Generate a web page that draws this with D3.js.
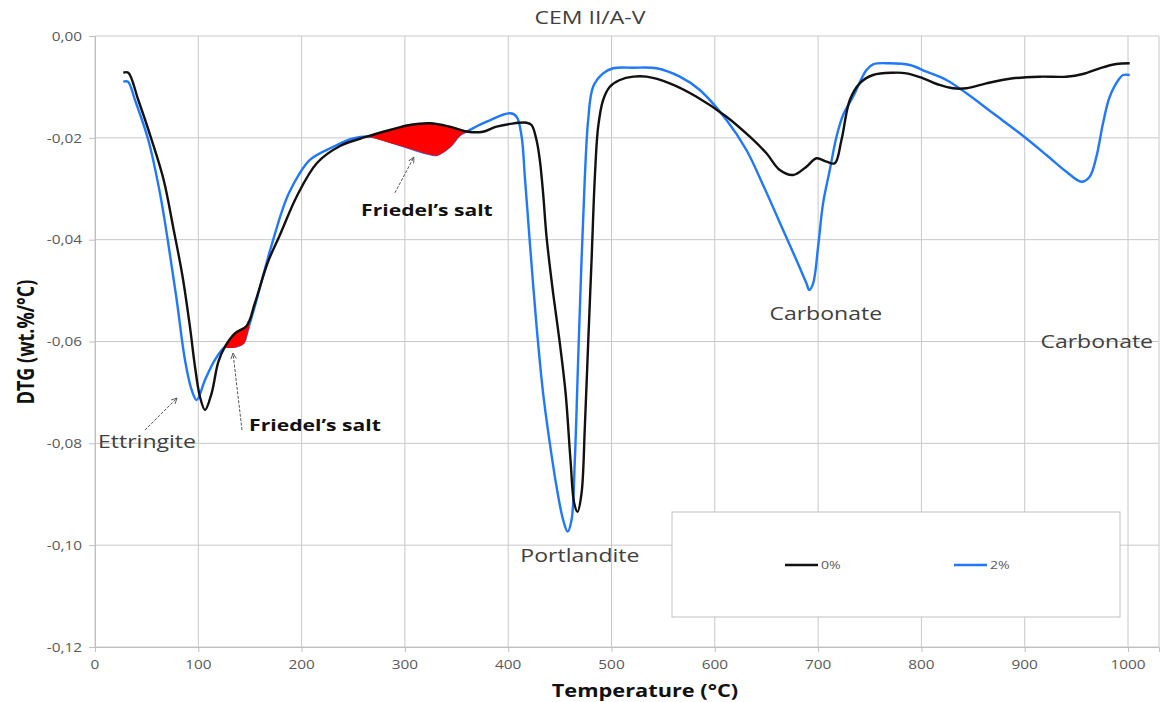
<!DOCTYPE html>
<html>
<head>
<meta charset="utf-8">
<script src="https://cdn.jsdelivr.net/npm/d3@7"></script>
<style>
  body { margin: 0; background: #fff; }
  svg { display: block; }
</style>
</head>
<body>
<svg id="chart" width="1163" height="702"></svg>
<script>
// DTG curves, CEM II/A-V, temperature in °C and DTG in wt.%/°C
const temp0 = [27.4, 32.2, 41.9, 54.9, 66.5, 76.2, 84.8, 91.9, 96.8, 101.6, 106.5, 112.9, 119.3, 125.8, 135.5, 146.8,
  154.8, 167.4, 179, 195.5, 214.9, 237.2, 263, 285.5, 304.8, 324.2, 343.5, 361, 375.5, 388.7, 417.8, 422.6, 427.4,
  430.6, 433.8, 437.1, 443.5, 450, 455.6, 460.3, 463.9, 467.1, 471, 474.2, 477.4, 480.7, 483.9, 487.1, 491.9, 498.4,
  508.1, 521, 533.9, 556.4, 582.3, 611.3, 633.9, 650, 662.9, 675.8, 688.7, 698.4, 708.1, 716.1, 722.6, 730.7, 740.3,
  753.2, 772.6, 785.5, 801.6, 817.7, 830.6, 843.6, 862.9, 888.7, 914.5, 940.3, 956.4, 972.6, 988.7, 1001.6];
const dtg0 = [-0.0072, -0.0072, -0.01257, -0.02043, -0.02828, -0.0381, -0.04727, -0.05709, -0.06495, -0.07084, -0.07345,
  -0.07017, -0.06403, -0.06102, -0.05839, -0.05696, -0.05244, -0.04439, -0.03908, -0.03142, -0.02494, -0.0216,
  -0.01978, -0.01846, -0.01748, -0.01715, -0.01781, -0.0188, -0.0188, -0.01781, -0.01703, -0.01748, -0.02043, -0.02435,
  -0.03089, -0.03942, -0.05053, -0.06036, -0.07018, -0.08327, -0.09178, -0.09343, -0.08981, -0.07673, -0.06036,
  -0.04399, -0.02763, -0.01781, -0.01257, -0.00996, -0.00864, -0.00799, -0.00799, -0.00929, -0.01192, -0.01585,
  -0.01978, -0.02304, -0.02632, -0.0273, -0.02567, -0.02402, -0.02469, -0.025, -0.02043, -0.01257, -0.00929, -0.00766,
  -0.00721, -0.00733, -0.00831, -0.00962, -0.01027, -0.01027, -0.00929, -0.00831, -0.00799, -0.00799, -0.00746,
  -0.00634, -0.0055, -0.00536];

const temp2 = [27.4, 31.9, 38.7, 51.6, 62.9, 70.9, 79.1, 87.1, 93.6, 98.4, 106.5, 116.1, 125.8, 135.5, 143.5, 148.4,
  154.8, 167.4, 180.7, 188.7, 208, 230.3, 249.7, 266, 295.2, 321, 330.7, 343.5, 353.2, 361.3, 379.1, 401.6, 408.1, 413,
  416.1, 421, 427.5, 433.8, 440.3, 446.8, 453.2, 457.5, 461.3, 464.5, 467.7, 471, 474.2, 477.4, 482.2, 491.9, 501.6,
  521, 543.6, 566.1, 585.5, 611.3, 630.6, 646.7, 666.1, 679, 688.7, 691.3, 695.2, 700, 704.8, 711.3, 717.8, 724.2,
  733.8, 746.8, 753.2, 769.4, 788.7, 804.9, 824.2, 843.6, 869.4, 895.2, 921, 940.3, 954.8, 962.9, 969.4, 975.8, 982.3,
  991.9, 995.2, 1001.6];
const dtg2 = [-0.00898, -0.00898, -0.01257, -0.02043, -0.0309, -0.04071, -0.05185, -0.06363, -0.06953, -0.07149,
  -0.06756, -0.06363, -0.06114, -0.06102, -0.06035, -0.05741, -0.05303, -0.0436, -0.03457, -0.03044, -0.02435,
  -0.0218, -0.02013, -0.01974, -0.02141, -0.02304, -0.02337, -0.02174, -0.01944, -0.0186, -0.01683, -0.01518,
  -0.01585, -0.01978, -0.02763, -0.04071, -0.05709, -0.07017, -0.08, -0.08852, -0.09506, -0.09735, -0.09506, -0.08327,
  -0.06363, -0.04399, -0.02763, -0.0165, -0.00996, -0.00733, -0.00634, -0.00623, -0.00634, -0.00799, -0.01061,
  -0.0165, -0.02239, -0.02926, -0.0381, -0.04399, -0.04857, -0.04988, -0.04857, -0.04138, -0.03286, -0.02632,
  -0.01978, -0.01552, -0.01192, -0.00668, -0.00556, -0.00536, -0.0057, -0.00701, -0.00864, -0.01125, -0.01518,
  -0.01911, -0.02337, -0.02665, -0.02862, -0.02763, -0.0237, -0.01715, -0.01192, -0.00831, -0.00766, -0.00766];

const seriesNames = ["0%", "2%"];
const seriesColors = ["#111111", "#1f78ff"];

const xTickValues = [0, 100, 200, 300, 400, 500, 600, 700, 800, 900, 1000];
const yTickValues = [0, -0.02, -0.04, -0.06, -0.08, -0.10, -0.12];

// Friedel's salt signal: temperature windows where the gap between the curves is shaded
const friedelWindows = [[125.8, 148.4], [263, 361]];

// Peak labels
const labelTexts = ["Ettringite", "Friedel’s salt", "Friedel’s salt", "Portlandite", "Carbonate", "Carbonate"];
const labelTemps = [50.3, 212.9, 321.3, 469.4, 707.4, 969.7];
const labelDtgs = [-0.0795, -0.0764, -0.0342, -0.1019, -0.0544, -0.0599];
const labelBold = [false, true, true, false, false, false];

// Arrows pointing at peaks: from (temp, dtg) to (temp, dtg)
const arrowFromTemps = [48.4, 142.3, 290.3];
const arrowFromDtgs = [-0.0774, -0.0774, -0.0308];
const arrowToTemps = [79.4, 133.6, 308.7];
const arrowToDtgs = [-0.0711, -0.0623, -0.0238];

const W = 1163, H = 702;
const margin = { left: 95, top: 36, right: 4, bottom: 55 };
const SX = 1.28; // horizontal text stretch of the chart's typography
const FONT = "'Open Sans', 'Noto Sans', sans-serif";

const svg = d3.select("#chart");
const x = d3.scaleLinear().domain([0, 1030]).range([margin.left, W - margin.right]);
const y = d3.scaleLinear().domain([-0.12, 0]).range([H - margin.bottom, margin.top]);

const fmtY = v => d3.format(".2f")(v).replace(".", ",").replace("−", "-");

function stretchedText(g, px, py, txt, opts) {
  return g.append("g")
    .attr("transform", `translate(${px},${py}) scale(${SX},1)`)
    .append("text")
    .attr("font-family", FONT)
    .attr("font-size", opts.size)
    .attr("font-weight", opts.bold ? 700 : 400)
    .attr("fill", opts.color || "#404040")
    .attr("text-anchor", opts.anchor || "middle")
    .attr("dominant-baseline", "central")
    .text(txt);
}

// grid
const grid = svg.append("g");
grid.selectAll("line.v").data(xTickValues).join("line")
  .attr("x1", d => x(d)).attr("x2", d => x(d))
  .attr("y1", y(0)).attr("y2", y(-0.12))
  .attr("stroke", "#c8c8c8").attr("stroke-width", 1);
grid.selectAll("line.h").data(yTickValues).join("line")
  .attr("x1", x(0)).attr("x2", x(1030))
  .attr("y1", d => y(d)).attr("y2", d => y(d))
  .attr("stroke", "#c8c8c8").attr("stroke-width", 1);
grid.append("line").attr("x1", x(1030)).attr("x2", x(1030)).attr("y1", y(0)).attr("y2", y(-0.12))
  .attr("stroke", "#c8c8c8");

// axes
const yAxis = svg.append("g").attr("transform", `translate(${x(0)},0)`)
  .call(d3.axisLeft(y).tickValues(yTickValues).tickSize(6).tickFormat(() => ""));
const xAxis = svg.append("g").attr("transform", `translate(0,${y(-0.12)})`)
  .call(d3.axisBottom(x).tickValues(xTickValues).tickSize(5).tickFormat(() => ""));
[yAxis, xAxis].forEach(a => {
  a.select(".domain").attr("stroke", "#bfbfbf");
  a.selectAll(".tick line").attr("stroke", "#bfbfbf");
});
yTickValues.forEach(v => stretchedText(svg, x(0) - 13, y(v), fmtY(v), { size: 12, anchor: "end", color: "#595959" }));
xTickValues.forEach(v => stretchedText(svg, x(v), y(-0.12) + 17, String(v), { size: 12, color: "#595959" }));

// titles
stretchedText(svg, 590, 17, "CEM II/A-V", { size: 18, color: "#404040" });
stretchedText(svg, (x(0) + x(1030)) / 2 + 18, 690, "Temperature (°C)", { size: 17, bold: true, color: "#111" });
svg.append("g").attr("transform", `translate(25,342) scale(${SX},1) rotate(-90)`)
  .append("text").attr("font-family", FONT).attr("font-size", 18).attr("font-weight", 700)
  .attr("fill", "#111").attr("text-anchor", "middle").attr("dominant-baseline", "central")
  .text("DTG (wt.%/°C)");

// curves
const series = [
  { name: seriesNames[0], color: seriesColors[0], pts: temp0.map((t, i) => [t, dtg0[i]]) },
  { name: seriesNames[1], color: seriesColors[1], pts: temp2.map((t, i) => [t, dtg2[i]]) }
];
const smooth = d3.curveCatmullRom.alpha(0.5);
const line = d3.line().x(d => x(d[0])).y(d => y(d[1])).curve(smooth);

function valueAt(pts, t) {
  const i = d3.bisector(d => d[0]).left(pts, t);
  if (i <= 0) return pts[0][1];
  if (i >= pts.length) return pts[pts.length - 1][1];
  const a = pts[i - 1], b = pts[i];
  return a[1] + (b[1] - a[1]) * (t - a[0]) / (b[0] - a[0]);
}

const plot = svg.append("g");
plot.append("path").attr("d", line(series[1].pts)).attr("fill", "none")
  .attr("stroke", series[1].color).attr("stroke-width", 2.4).attr("stroke-linejoin", "round");

// shaded Friedel's salt regions between the two curves
const area = d3.area().x(d => x(d[0])).y0(d => y(d[1])).y1(d => y(d[2])).curve(smooth);
friedelWindows.forEach(([a, b]) => {
  const ts = Array.from(new Set(
    series[0].pts.concat(series[1].pts).map(d => d[0]).filter(t => t >= a && t <= b).concat([a, b])
  )).sort((p, q) => p - q);
  const rows = ts.map(t => [t, valueAt(series[0].pts, t), valueAt(series[1].pts, t)]);
  plot.append("path").attr("d", area(rows)).attr("fill", "#ff0000").attr("stroke", "#ff0000").attr("stroke-width", 1.5);
});

plot.append("path").attr("d", line(series[0].pts)).attr("fill", "none")
  .attr("stroke", series[0].color).attr("stroke-width", 2.4).attr("stroke-linejoin", "round");

// annotations
const defs = svg.append("defs");
defs.append("marker").attr("id", "arrowhead").attr("viewBox", "0 0 10 10")
  .attr("refX", 9).attr("refY", 5).attr("markerWidth", 7).attr("markerHeight", 7)
  .attr("orient", "auto")
  .append("path").attr("d", "M1,1 L9,5 L1,9").attr("fill", "none").attr("stroke", "#555").attr("stroke-width", 1.3);
arrowFromTemps.forEach((t, i) => {
  svg.append("line")
    .attr("x1", x(t)).attr("y1", y(arrowFromDtgs[i]))
    .attr("x2", x(arrowToTemps[i])).attr("y2", y(arrowToDtgs[i]))
    .attr("stroke", "#555").attr("stroke-width", 1).attr("stroke-dasharray", "3,1.5")
    .attr("marker-end", "url(#arrowhead)");
});
labelTexts.forEach((txt, i) => {
  stretchedText(svg, x(labelTemps[i]), y(labelDtgs[i]), txt,
    { size: labelBold[i] ? 16.5 : 18, bold: labelBold[i], color: labelBold[i] ? "#111" : "#404040" });
});

// legend
const lg = svg.append("g");
lg.append("rect").attr("x", 672).attr("y", 512).attr("width", 448).attr("height", 105)
  .attr("fill", "#fff").attr("stroke", "#bfbfbf").attr("stroke-width", 1);
const legendX = [785, 954];
series.forEach((s, i) => {
  lg.append("line").attr("x1", legendX[i]).attr("x2", legendX[i] + 33).attr("y1", 565).attr("y2", 565)
    .attr("stroke", s.color).attr("stroke-width", 2.4);
  stretchedText(lg, legendX[i] + 36, 565, s.name, { size: 11, anchor: "start", color: "#595959" });
});
</script>
</body>
</html>
